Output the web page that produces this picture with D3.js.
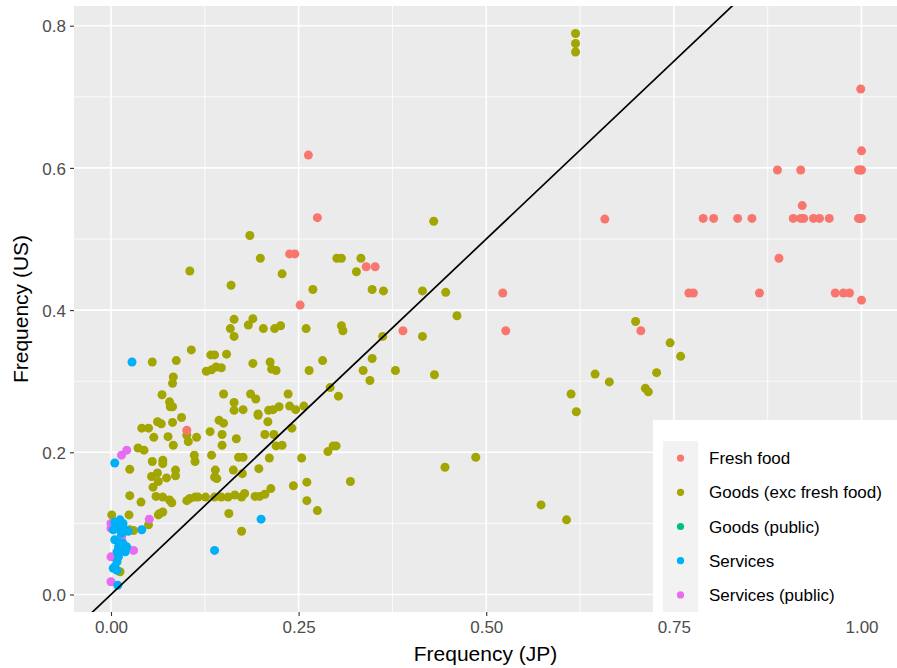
<!DOCTYPE html>
<html>
<head>
<meta charset="utf-8">
<script src="https://cdn.jsdelivr.net/npm/d3@7/dist/d3.min.js"></script>
<style>
  html, body { margin: 0; padding: 0; background: #ffffff; }
  svg { display: block; font-family: "Liberation Sans", Arial, Helvetica, sans-serif; }
</style>
</head>
<body>
<svg id="chart" width="897" height="668"></svg>
<script>
// Price-change frequency by item: Japan (x) vs United States (y)
const categories = ["Fresh food", "Goods (exc fresh food)", "Goods (public)", "Services", "Services (public)"];
const colors = ["#F8766D", "#A3A500", "#00BF7D", "#00B0F6", "#E76BF3"];

const freshFood = [
  [0.263, 0.618], [0.275, 0.530], [0.238, 0.479], [0.245, 0.479], [0.340, 0.461], [0.352, 0.461],
  [0.252, 0.407], [0.101, 0.231], [0.389, 0.371], [0.522, 0.424], [0.526, 0.371], [0.658, 0.528],
  [0.706, 0.371], [1.000, 0.624], [0.999, 0.711], [0.888, 0.597], [0.919, 0.597], [0.996, 0.597],
  [1.000, 0.597], [0.999, 0.597], [0.921, 0.547],
  [0.789, 0.529], [0.803, 0.529], [0.835, 0.529], [0.854, 0.529], [0.909, 0.529], [0.919, 0.529],
  [0.923, 0.529], [0.936, 0.529], [0.944, 0.529], [0.957, 0.529], [0.996, 0.529], [1.000, 0.529],
  [0.998, 0.529], [0.890, 0.473],
  [0.770, 0.424], [0.776, 0.424], [0.864, 0.424], [0.965, 0.424], [0.976, 0.424], [0.984, 0.424],
  [1.000, 0.414]
];

const goods = [
  [0.619, 0.789], [0.619, 0.775], [0.619, 0.763], [0.430, 0.525], [0.185, 0.505], [0.199, 0.473],
  [0.105, 0.455], [0.228, 0.451], [0.160, 0.435], [0.301, 0.473], [0.307, 0.473], [0.333, 0.473],
  [0.327, 0.454], [0.269, 0.429], [0.348, 0.429], [0.363, 0.427], [0.415, 0.427], [0.446, 0.425],
  [0.461, 0.392], [0.362, 0.363], [0.415, 0.363], [0.379, 0.315], [0.431, 0.309],
  [0.164, 0.387], [0.189, 0.388], [0.159, 0.374], [0.164, 0.363], [0.183, 0.379], [0.203, 0.374],
  [0.218, 0.374], [0.226, 0.378], [0.260, 0.374], [0.307, 0.378], [0.309, 0.371],
  [0.107, 0.344], [0.133, 0.337], [0.138, 0.337], [0.154, 0.338], [0.055, 0.327], [0.087, 0.329],
  [0.127, 0.314], [0.134, 0.316], [0.140, 0.320], [0.147, 0.319], [0.189, 0.325], [0.212, 0.327],
  [0.214, 0.317], [0.220, 0.315], [0.264, 0.315], [0.282, 0.329], [0.348, 0.332], [0.336, 0.315],
  [0.345, 0.301], [0.292, 0.291], [0.303, 0.279],
  [0.083, 0.306], [0.082, 0.297], [0.068, 0.281], [0.078, 0.271], [0.079, 0.264], [0.082, 0.264],
  [0.150, 0.282], [0.164, 0.270], [0.164, 0.259], [0.176, 0.260], [0.186, 0.282], [0.193, 0.275],
  [0.196, 0.254], [0.210, 0.259], [0.216, 0.260], [0.224, 0.264], [0.236, 0.282], [0.238, 0.265],
  [0.246, 0.260], [0.257, 0.265],
  [0.041, 0.234], [0.050, 0.234], [0.062, 0.243], [0.067, 0.240], [0.082, 0.242], [0.094, 0.249],
  [0.057, 0.221], [0.076, 0.222], [0.083, 0.210], [0.036, 0.206], [0.044, 0.203], [0.101, 0.224],
  [0.103, 0.215], [0.114, 0.221], [0.111, 0.196], [0.112, 0.187], [0.132, 0.229], [0.144, 0.245],
  [0.150, 0.241], [0.148, 0.225], [0.148, 0.210], [0.167, 0.219], [0.134, 0.196],
  [0.055, 0.187], [0.069, 0.189], [0.069, 0.184], [0.025, 0.176], [0.062, 0.171], [0.054, 0.166],
  [0.063, 0.159], [0.074, 0.164], [0.086, 0.175], [0.086, 0.167], [0.056, 0.151],
  [0.139, 0.175], [0.138, 0.165], [0.141, 0.163], [0.163, 0.175], [0.175, 0.170], [0.170, 0.193],
  [0.176, 0.193], [0.197, 0.177], [0.211, 0.192], [0.205, 0.225], [0.217, 0.225], [0.220, 0.209],
  [0.228, 0.210], [0.209, 0.243], [0.196, 0.252], [0.241, 0.234], [0.254, 0.192], [0.289, 0.201],
  [0.300, 0.209], [0.296, 0.209], [0.319, 0.159], [0.243, 0.153], [0.261, 0.158], [0.261, 0.132],
  [0.275, 0.118], [0.174, 0.089], [0.157, 0.114],
  [0.025, 0.139], [0.040, 0.130], [0.060, 0.138], [0.069, 0.137], [0.078, 0.133], [0.081, 0.129],
  [0.101, 0.132], [0.105, 0.135], [0.112, 0.137], [0.116, 0.137], [0.126, 0.137], [0.138, 0.137],
  [0.147, 0.137], [0.156, 0.137], [0.165, 0.140], [0.174, 0.137], [0.178, 0.142], [0.192, 0.138],
  [0.198, 0.138], [0.205, 0.141], [0.213, 0.149],
  [0.063, 0.112], [0.065, 0.114], [0.069, 0.116], [0.001, 0.112], [0.024, 0.112], [0.050, 0.098],
  [0.025, 0.091], [0.030, 0.090], [0.012, 0.032],
  [0.445, 0.179], [0.486, 0.193], [0.573, 0.126], [0.607, 0.105], [0.613, 0.282], [0.620, 0.257],
  [0.645, 0.310], [0.664, 0.299], [0.699, 0.384], [0.712, 0.290], [0.716, 0.285], [0.727, 0.312],
  [0.745, 0.354], [0.759, 0.335]
];

const goodsPublic = [
  [0.014, 0.083]
];

const services = [
  [0.028, 0.327], [0.200, 0.106], [0.138, 0.062], [0.005, 0.185],
  [0.005, 0.102], [0.012, 0.105], [0.016, 0.100], [0.009, 0.093], [0.003, 0.091], [0.019, 0.091],
  [0.014, 0.086], [0.023, 0.089], [0.041, 0.091], [0.007, 0.098], [0.012, 0.097],
  [0.005, 0.077], [0.010, 0.074], [0.016, 0.072], [0.021, 0.067], [0.019, 0.060], [0.010, 0.067],
  [0.008, 0.060], [0.010, 0.053], [0.008, 0.046], [0.005, 0.039], [0.003, 0.037], [0.008, 0.034],
  [0.009, 0.013]
];

const servicesPublic = [
  [0.021, 0.203], [0.014, 0.196], [0.051, 0.106], [0.000, 0.100], [0.000, 0.093], [0.014, 0.080],
  [0.030, 0.062], [0.000, 0.053], [0.000, 0.018]
];

const xTicks = [0, 0.25, 0.5, 0.75, 1.0];
const xMinor = [0.125, 0.375, 0.625, 0.875];
const yTicks = [0, 0.2, 0.4, 0.6, 0.8];
const yMinor = [0.1, 0.3, 0.5, 0.7];

const panel = { left: 74, right: 897, top: 6, bottom: 612 };

const x = d3.scaleLinear().domain([-0.0493, 1.0473]).range([panel.left, panel.right]);
const y = d3.scaleLinear().domain([-0.0246, 0.8277]).range([panel.bottom, panel.top]);

const svg = d3.select("#chart");

svg.append("defs").append("clipPath").attr("id", "panel-clip")
  .append("rect")
  .attr("x", panel.left).attr("y", panel.top)
  .attr("width", panel.right - panel.left).attr("height", panel.bottom - panel.top);

// panel background
svg.append("rect")
  .attr("x", panel.left).attr("y", panel.top)
  .attr("width", panel.right - panel.left).attr("height", panel.bottom - panel.top)
  .attr("fill", "#EBEBEB");

const grid = svg.append("g").attr("stroke", "#ffffff");
grid.selectAll(".xminor").data(xMinor).join("line")
  .attr("x1", d => x(d)).attr("x2", d => x(d))
  .attr("y1", panel.top).attr("y2", panel.bottom).attr("stroke-width", 0.8);
grid.selectAll(".yminor").data(yMinor).join("line")
  .attr("y1", d => y(d)).attr("y2", d => y(d))
  .attr("x1", panel.left).attr("x2", panel.right).attr("stroke-width", 0.8);
grid.selectAll(".xmajor").data(xTicks).join("line")
  .attr("x1", d => x(d)).attr("x2", d => x(d))
  .attr("y1", panel.top).attr("y2", panel.bottom).attr("stroke-width", 1.6);
grid.selectAll(".ymajor").data(yTicks).join("line")
  .attr("y1", d => y(d)).attr("y2", d => y(d))
  .attr("x1", panel.left).attr("x2", panel.right).attr("stroke-width", 1.6);

// points, one layer per category
const plot = svg.append("g").attr("clip-path", "url(#panel-clip)");
const layers = [
  { data: goods, color: colors[1] },
  { data: freshFood, color: colors[0] },
  { data: goodsPublic, color: colors[2] },
  { data: servicesPublic, color: colors[4] },
  { data: services, color: colors[3] }
];
layers.forEach(layer => {
  plot.append("g").selectAll("circle").data(layer.data).join("circle")
    .attr("cx", d => x(d[0])).attr("cy", d => y(d[1]))
    .attr("r", 4.5).attr("fill", layer.color);
});

// 45-degree reference line (US = JP)
const lineDomain = [-0.1, 1.1];
plot.append("line")
  .attr("x1", x(lineDomain[0])).attr("y1", y(lineDomain[0]))
  .attr("x2", x(lineDomain[1])).attr("y2", y(lineDomain[1]))
  .attr("stroke", "#000000").attr("stroke-width", 1.7);

// axes
const xAxis = svg.append("g").attr("transform", `translate(0,${panel.bottom})`)
  .call(d3.axisBottom(x).tickValues(xTicks).tickFormat(d3.format(".2f")).tickSize(4).tickPadding(5));
const yAxis = svg.append("g").attr("transform", `translate(${panel.left},0)`)
  .call(d3.axisLeft(y).tickValues(yTicks).tickFormat(d3.format(".1f")).tickSize(4).tickPadding(4));
[xAxis, yAxis].forEach(a => {
  a.select(".domain").remove();
  a.selectAll(".tick line").attr("stroke", "#333333").attr("stroke-width", 1.1);
  a.selectAll(".tick text").attr("fill", "#4D4D4D")
    .style("font-size", "17px").style("font-family", "'Liberation Sans', Arial, sans-serif");
});
yAxis.selectAll(".tick text").attr("dy", "0.36em");

// legend inside panel, bottom right
const legend = svg.append("g");
legend.append("rect")
  .attr("x", 653).attr("y", 420).attr("width", 244).attr("height", 201)
  .attr("fill", "#ffffff");
const keyTop = 441, keyH = 34.2;
legend.append("rect")
  .attr("x", 663).attr("y", keyTop).attr("width", 35).attr("height", keyH * categories.length)
  .attr("fill", "#F2F2F2");
const items = legend.selectAll(".item").data(categories).join("g")
  .attr("transform", (d, i) => `translate(0,${keyTop + keyH * i + keyH / 2})`);
items.append("circle").attr("cx", 680.5).attr("cy", 0).attr("r", 3.6)
  .attr("fill", (d, i) => colors[i]);
items.append("text").attr("x", 709).attr("y", 0).attr("dy", "0.36em")
  .attr("fill", "#000000").style("font-size", "17px")
  .text(d => d);

// tick labels stay visible below the legend box; its tick marks stay covered
xAxis.raise();
xAxis.selectAll(".tick line").filter(d => x(d) > 653).remove();

// axis titles
svg.append("text")
  .attr("x", (panel.left + panel.right) / 2).attr("y", 661)
  .attr("text-anchor", "middle").attr("fill", "#000000").style("font-size", "21px")
  .text("Frequency (JP)");
svg.append("text")
  .attr("transform", `translate(28,${(panel.top + panel.bottom) / 2}) rotate(-90)`)
  .attr("text-anchor", "middle").attr("fill", "#000000").style("font-size", "21px")
  .text("Frequency (US)");
</script>
</body>
</html>
